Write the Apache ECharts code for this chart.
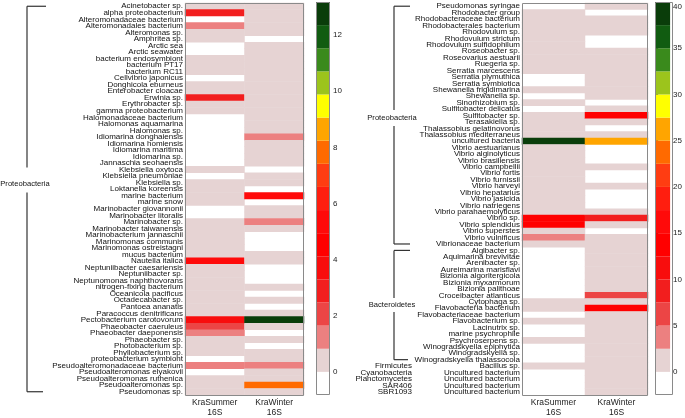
<!DOCTYPE html>
<html><head><meta charset="utf-8">
<script src="https://cdn.jsdelivr.net/npm/echarts@6/dist/echarts.min.js"></script>
<style>html,body{margin:0;padding:0;background:#fff}#c{width:685px;height:418px}</style>
</head><body><div id="c"></div>
<script>
const n = null;
const columns = ['KraSummer\n16S', 'KraWinter\n16S'];

const leftSpecies = ['Acinetobacter sp.','alpha proteobacterium','Alteromonadaceae bacterium','Alteromonadales bacterium','Alteromonas sp.','Amphritea sp.','Arctic sea','Arctic seawater','bacterium endosymbiont','bacterium PT17','bacterium RC11','Cellvibrio japonicus','Donghicola eburneus','Enterobacter cloacae','Erwinia sp.','Erythrobacter sp.','gamma proteobacterium','Halomonadaceae bacterium','Halomonas aquamarina','Halomonas sp.','Idiomarina donghaiensis','Idiomarina homiensis','Idiomarina maritima','Idiomarina sp.','Jannaschia seohaensis','Klebsiella oxytoca','Klebsiella pneumoniae','Klebsiella sp.','Loktanella koreensis','marine bacterium','marine snow','Marinobacter giovannonii','Marinobacter litoralis','Marinobacter sp.','Marinobacter taiwanensis','Marinobacterium jannaschii','Marinomonas communis','Marinomonas ostreistagni','mucus bacterium','Nautella italica','Neptuniibacter caesariensis','Neptuniibacter sp.','Neptunomonas naphthovorans','nitrogen-fixing bacterium','Oceanicola pacificus','Octadecabacter sp.','Pantoea ananatis','Paracoccus denitrificans','Pectobacterium carotovorum','Phaeobacter caeruleus','Phaeobacter daeponensis','Phaeobacter sp.','Photobacterium sp.','Phyllobacterium sp.','proteobacterium symbiont','Pseudoalteromonadaceae bacterium','Pseudoalteromonas elyakovii','Pseudoalteromonas ruthenica','Pseudoalteromonas sp.','Pseudomonas sp.'];
const leftSummer = [0,3,n,1,0,0,n,n,0,0, 0,n,0,0,3,0,0,n,n,n, n,n,n,n,n,0,n,0,0,0, 0,n,n,0,0,0,0,0,0,5, 0,0,0,0,0,0,0,0,4,2, 1,0,0,0,n,1,n,0,0,0];
const leftWinter = [0,0,0,0,0,n,0,0,0,0, 0,0,0,0,0,0,0,0,0,0, 1,0,0,0,0,n,0,0,n,5, n,0,0,1,0,n,n,n,0,0, n,n,n,0,n,0,n,0,13,0, n,0,n,0,0,1,0,0,8,0];

const rightSpecies = ['Pseudomonas syringae','Rhodobacter group','Rhodobacteraceae bacterium','Rhodobacterales bacterium','Rhodovulum sp.','Rhodovulum strictum','Rhodovulum sulfidophilum','Roseobacter sp.','Roseovarius aestuarii','Ruegeria sp.','Serratia marcescens','Serratia plymuthica','Serratia symbiotica','Shewanella frigidimarina','Shewanella sp.','Sinorhizobium sp.','Sulfitobacter delicatus','Sulfitobacter sp.','Terasakiella sp.','Thalassobius gelatinovorus','Thalassobius mediterraneus','uncultured bacteria','Vibrio aestuarianus','Vibrio alginolyticus','Vibrio brasiliensis','Vibrio campbellii','Vibrio fortis','Vibrio furnissii','Vibrio harveyi','Vibrio hepatarius','Vibrio jasicida','Vibrio natriegens','Vibrio parahaemolyticus','Vibrio sp.','Vibrio splendidus','Vibrio superstes','Vibrio vulnificus','Vibrionaceae bacterium','Algibacter sp.','Aquimarina brevivitae','Arenibacter sp.','Aureimarina marisflavi','Bizionia algoritergicola','Bizionia myxarmorum','Bizionia palithoae','Croceibacter atlanticus','Cytophaga sp.','Flavobacteria bacterium','Flavobacteriaceae bacterium','Flavobacterium sp.','Lacinutrix sp.','marine psychrophile','Psychroserpens sp.','Winogradskyella epiphytica','Winogradskyella sp.','Winogradskyella thalassocola','Bacillus sp.','Uncultured bacterium','Uncultured bacterium','Uncultured bacterium','Uncultured bacterium'];
const rightSummer = [n,0,0,0,0,0,0,0,0,0, 0,n,n,0,n,0,n,0,0,0, 0,39,0,0,0,0,0,0,0,0, 0,0,0,14,14,0,4,0,n,n, n,n,n,n,n,n,0,0,n,0, n,n,0,n,n,n,0,n,n,n,n];
const rightWinter = [0,n,0,0,0,n,n,0,0,0, 0,0,0,0,0,n,0,14,0,n, 0,26,n,n,n,0,n,n,0,n, n,n,0,9,0,n,0,0,0,0, 0,0,0,0,0,6,0,14,0,0, 0,0,0,0,0,0,0,0,0,0,0];

const leftRange = [-14/17, 14 - 14/17];
const rightRange = [-2.5, 40];
const leftTicks = [0,2,4,6,8,10,12];
const rightTicks = [0,5,10,15,20,25,30,35,40];
const palette = ['#ffffff','#e6d3d3','#ec8080','#ec4545','#f21e1e','#f80d0d','#ff0000','#ff0a0a','#ff1e0f','#ff3d12','#ff6a00','#ffa500','#ffff00','#9cc41c','#3a8a1c','#115c11','#0a3d0a'];

const leftGroups = [{name:'Proteobacteria', first:0, last:59}];
const rightGroups = [{name:'Proteobacteria', first:0, last:37},{name:'Bacteroidetes', first:38, last:55},{name:'Firmicutes', first:56, last:56},{name:'Cyanobacteria', first:57, last:57},{name:'Planctomycetes', first:58, last:58},{name:'SAR406', first:59, last:59},{name:'SBR1093', first:60, last:60}];

const FONT = '"Liberation Sans", Arial, sans-serif';
const L = {
  lg: {left:185, top:3, width:119, height:393},
  lb: {left:316, top:2, width:14, height:393},
  rg: {left:522, top:3, width:126, height:393},
  rb: {left:655, top:2, width:18, height:393}
};

function pieces(r){
  const step = (r[1]-r[0])/palette.length;
  return palette.map((c,i)=>({gte:+(r[0]+i*step).toFixed(9), lt:+(r[0]+(i+1)*step).toFixed(9)+(i===palette.length-1?1e-6:0), color:c}));
}
function cells(s, w){
  const d = [];
  s.forEach((v,i)=>{ if(v!==null) d.push([0,i,v]); });
  w.forEach((v,i)=>{ if(v!==null) d.push([1,i,v]); });
  return d;
}
function barData(r){
  return pieces(r).map((p,i)=>[p.gte, +(p.lt).toFixed(6), i]);
}
function cbRender(params, api){
  const a = api.coord([0, api.value(0)]);
  const b = api.coord([1, api.value(1)]);
  return {type:'rect', shape:{x:a[0], y:b[1], width:b[0]-a[0], height:a[1]-b[1]}, style:{fill:palette[api.value(2)]}};
}
function catY(data){
  return {type:'category', data:data, inverse:true, axisLine:{show:false}, axisTick:{show:false}, splitLine:{show:false},
    axisLabel:{interval:0, fontSize:8, margin:2, color:'#111', fontFamily:FONT}};
}
function catX(){
  return {type:'category', data:columns, axisLine:{show:false}, axisTick:{show:false}, splitLine:{show:false},
    axisLabel:{fontSize:8.5, lineHeight:10, margin:3, color:'#222', fontFamily:FONT}};
}
function barYRight(r, ticks){
  return {type:'value', min:r[0], max:r[1], position:'right', axisLine:{show:false}, splitLine:{show:false},
    axisTick:{show:true, inside:false, length:3, customValues:ticks, lineStyle:{color:'#444', width:0.8}},
    axisLabel:{customValues:ticks, fontSize:8, margin:3, color:'#222', fontFamily:FONT,
      formatter: v => v===r[1] ? '{t|'+v+'}' : String(v), rich:{t:{padding:[10,0,0,0], fontSize:8, color:'#222', fontFamily:FONT}}}};
}
function barYLeft(r, ticks){
  return {type:'value', min:r[0], max:r[1], position:'left', axisLine:{show:false}, splitLine:{show:false}, axisLabel:{show:false},
    axisTick:{show:true, inside:true, length:4, customValues:ticks, lineStyle:{color:'#444', width:0.8, type:'dashed'}}};
}

const chart = echarts.init(document.getElementById('c'));
const xAxes = [Object.assign({gridIndex:0}, catX()), {gridIndex:1, type:'value', min:0, max:1, show:false},
               Object.assign({gridIndex:2}, catX()), {gridIndex:3, type:'value', min:0, max:1, show:false}];
const yAxes = [Object.assign({gridIndex:0}, catY(leftSpecies)),
               Object.assign({gridIndex:1}, barYRight(leftRange, leftTicks)),
               Object.assign({gridIndex:1}, barYLeft(leftRange, leftTicks)),
               Object.assign({gridIndex:2}, catY(rightSpecies)),
               Object.assign({gridIndex:3}, barYRight(rightRange, rightTicks)),
               Object.assign({gridIndex:3}, barYLeft(rightRange, rightTicks))];

chart.setOption({
  animation:false,
  backgroundColor:'#ffffff',
  textStyle:{fontFamily:FONT},
  grid:[L.lg, L.lb, L.rg, L.rb].map(g=>Object.assign({containLabel:false}, g)),
  xAxis:xAxes, yAxis:yAxes,
  visualMap:[
    {type:'piecewise', show:false, seriesIndex:0, dimension:2, pieces:pieces(leftRange)},
    {type:'piecewise', show:false, seriesIndex:2, dimension:2, pieces:pieces(rightRange)}
  ],
  series:[
    {type:'heatmap', xAxisIndex:0, yAxisIndex:0, data:cells(leftSummer, leftWinter), emphasis:{disabled:true}},
    {type:'custom', xAxisIndex:1, yAxisIndex:1, data:barData(leftRange), renderItem:cbRender, encode:{y:[0,1]}, clip:false, silent:true},
    {type:'heatmap', xAxisIndex:2, yAxisIndex:3, data:cells(rightSummer, rightWinter), emphasis:{disabled:true}},
    {type:'custom', xAxisIndex:3, yAxisIndex:4, data:barData(rightRange), renderItem:cbRender, encode:{y:[0,1]}, clip:false, silent:true}
  ]
});

// frames and group brackets
const g = [];
[L.lg, L.lb, L.rg, L.rb].forEach(b=>{
  g.push({type:'rect', z:100, shape:{x:b.left+0.5, y:b.top+0.5, width:b.width-1, height:b.height-1}, style:{fill:null, stroke:'#8a8a8a', lineWidth:1}});
});
const LS = {stroke:'#333', lineWidth:1.2};
function bracket(groups, yAxisIndex, lineX, tickEnds, labelFrac, gap, soloX){
  groups.forEach((gr, k)=>{
    const yTop = chart.convertToPixel({yAxisIndex:yAxisIndex}, gr.first);
    const yBot = chart.convertToPixel({yAxisIndex:yAxisIndex}, gr.last);
    if (gr.first === gr.last) {
      g.push({type:'text', z:100, style:{text:gr.name, x:soloX, y:yBot, align:'right', verticalAlign:'middle', fontSize:8, fill:'#111', font:'8px '+FONT}});
      return;
    }
    const ly = yTop + labelFrac[k]*(yBot-yTop);
    g.push({type:'line', z:100, shape:{x1:lineX, y1:yTop, x2:tickEnds[k][0], y2:yTop}, style:LS});
    g.push({type:'line', z:100, shape:{x1:lineX, y1:yBot, x2:tickEnds[k][1], y2:yBot}, style:LS});
    g.push({type:'line', z:100, shape:{x1:lineX, y1:yTop, x2:lineX, y2:ly-gap[k][0]}, style:LS});
    g.push({type:'line', z:100, shape:{x1:lineX, y1:ly+gap[k][1], x2:lineX, y2:yBot}, style:LS});
    g.push({type:'text', z:100, style:{text:gr.name, x:lineX-2, y:ly, align:'center', verticalAlign:'middle', font:'7.6px '+FONT, fill:'#111'}});
  });
}
bracket(leftGroups, 0, 27, [[46,43]], [0.46], [[16,9]], 0);
bracket(rightGroups, 3, 394, [[410,410],[410,408]], [0.47,0.5], [[8,8],[7,7]], 412);
chart.setOption({graphic:{elements:g}});
</script></body></html>
